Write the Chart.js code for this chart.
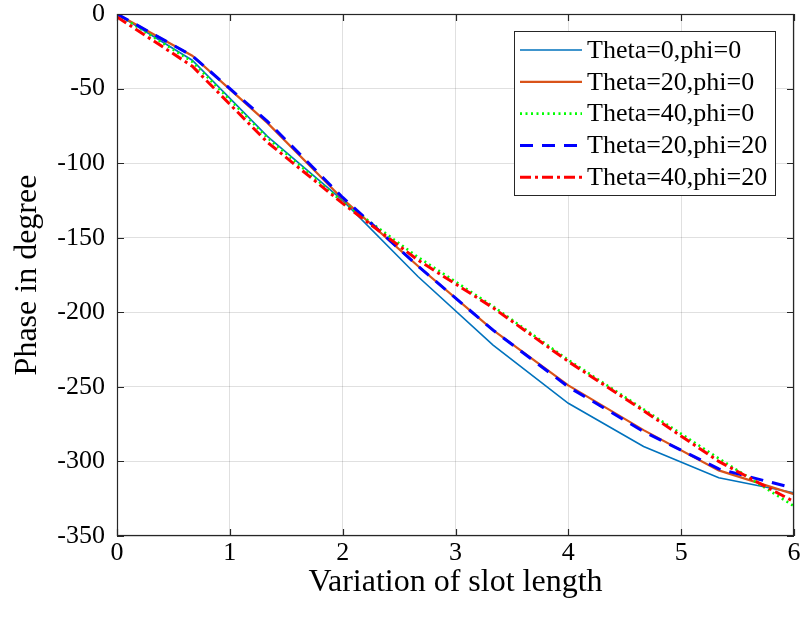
<!DOCTYPE html>
<html>
<head>
<meta charset="utf-8">
<script src="https://cdn.jsdelivr.net/npm/chart.js@4/dist/chart.umd.min.js"></script>
<style>
  html, body { margin: 0; padding: 0; background: #ffffff; }
  #wrap { width: 801px; height: 624px; }
</style>
</head>
<body>
<div id="wrap"><canvas id="c" width="801" height="624"></canvas></div>
<script>
// ---- data ----
const xValues = [0, 0.667, 1.333, 2, 2.667, 3.333, 4, 4.667, 5.333, 6];
const theta0phi0  = [0, -31, -82, -125, -176, -222, -261, -290, -311, -321];
const theta20phi0 = [0, -28, -73, -124, -169, -212, -249, -279, -306, -322];
const theta40phi0 = [0, -32, -83, -126, -163, -196, -232, -265, -298, -330];
const theta20phi20 = [0, -28, -72, -123, -169, -212, -250, -280, -305, -318];
const theta40phi20 = [-2, -35, -86, -127, -165, -197, -233, -266, -300, -327];
const seriesNames = ['Theta=0,phi=0', 'Theta=20,phi=0', 'Theta=40,phi=0', 'Theta=20,phi=20', 'Theta=40,phi=20'];
const xTicks = [0, 1, 2, 3, 4, 5, 6];
const yTicks = [0, -50, -100, -150, -200, -250, -300, -350];
const xTitle = 'Variation of slot length';
const yTitle = 'Phase in degree';

const FONT = "'Liberation Serif', 'Times New Roman', serif";
const AXC = '#262626';

const styles = [
  { color: '#0072BD', width: 1.6, dash: [] },
  { color: '#D95319', width: 2.2, dash: [] },
  { color: '#00FF00', width: 2.6, dash: [2, 3.5] },
  { color: '#0000FF', width: 3, dash: [13, 9] },
  { color: '#FF0000', width: 3, dash: [11, 4, 3, 4] }
];
const allSeries = [theta0phi0, theta20phi0, theta40phi0, theta20phi20, theta40phi20];

const datasets = allSeries.map((vals, i) => ({
  label: seriesNames[i],
  data: xValues.map((x, k) => ({ x: x, y: vals[k] })),
  borderColor: styles[i].color,
  backgroundColor: styles[i].color,
  borderWidth: styles[i].width,
  borderDash: styles[i].dash,
  pointRadius: 0,
  tension: 0,
  fill: false,
  order: allSeries.length - i
}));

const boxPlugin = {
  id: 'boxPlugin',
  afterDatasetsDraw(chart) {
    const { ctx, chartArea: a, scales } = chart;
    ctx.save();
    ctx.strokeStyle = AXC;
    ctx.lineWidth = 1.2;
    ctx.setLineDash([]);
    ctx.strokeRect(a.left + 0.5, a.top + 0.5, a.right - a.left - 1, a.bottom - a.top - 1);
    const tl = 7;
    ctx.beginPath();
    xTicks.forEach(v => {
      const px = Math.round(scales.x.getPixelForValue(v)) + 0.5;
      ctx.moveTo(px, a.bottom); ctx.lineTo(px, a.bottom - tl);
      ctx.moveTo(px, a.top); ctx.lineTo(px, a.top + tl);
    });
    yTicks.forEach(v => {
      const py = Math.round(scales.y.getPixelForValue(v)) + 0.5;
      ctx.moveTo(a.left, py); ctx.lineTo(a.left + tl, py);
      ctx.moveTo(a.right, py); ctx.lineTo(a.right - tl, py);
    });
    ctx.stroke();

    // legend box (inside the axes, upper right)
    const bx = a.left + 397, by = a.top + 17, bw = 261, bh = 164;
    ctx.fillStyle = '#ffffff';
    ctx.fillRect(bx, by, bw, bh);
    ctx.strokeStyle = AXC;
    ctx.lineWidth = 1;
    ctx.strokeRect(bx + 0.5, by + 0.5, bw, bh);
    const rowH = 31.8;
    ctx.font = '26px ' + FONT;
    ctx.textBaseline = 'middle';
    ctx.fillStyle = '#000000';
    seriesNames.forEach((name, i) => {
      const cy = by + 19 + i * rowH;
      ctx.beginPath();
      ctx.strokeStyle = styles[i].color;
      ctx.lineWidth = styles[i].width;
      ctx.setLineDash(styles[i].dash);
      ctx.moveTo(bx + 6, cy);
      ctx.lineTo(bx + 68, cy);
      ctx.stroke();
      ctx.setLineDash([]);
      ctx.fillText(name, bx + 73, cy + 1);
    });
    ctx.restore();
  }
};

new Chart(document.getElementById('c'), {
  type: 'line',
  data: { datasets: datasets },
  options: {
    responsive: false,
    animation: false,
    devicePixelRatio: 1,
    layout: { padding: { top: 14, right: 7, left: 0, bottom: 0 } },
    plugins: { legend: { display: false }, tooltip: { enabled: false } },
    scales: {
      x: {
        type: 'linear', min: 0, max: 6,
        afterBuildTicks(s) { s.ticks = xTicks.map(v => ({ value: v })); },
        afterFit(s) { s.height = 88; s.paddingLeft = 0; s.paddingRight = 0; },
        ticks: { color: '#000', font: { family: FONT, size: 26 }, padding: 2, maxRotation: 0 },
        grid: { color: 'rgba(0,0,0,0.12)', lineWidth: 1, drawTicks: false },
        border: { display: false },
        title: { display: true, text: xTitle, color: '#000', font: { family: FONT, size: 32 }, padding: { top: 0, bottom: 22 } }
      },
      y: {
        type: 'linear', min: -350, max: 0,
        afterBuildTicks(s) { s.ticks = yTicks.map(v => ({ value: v })); },
        afterFit(s) { s.width = 117; s.paddingTop = 0; s.paddingBottom = 0; },
        ticks: { color: '#000', font: { family: FONT, size: 26 }, padding: 12 },
        grid: { color: 'rgba(0,0,0,0.12)', lineWidth: 1, drawTicks: false },
        border: { display: false },
        title: { display: true, text: yTitle, color: '#000', font: { family: FONT, size: 32 }, padding: { top: 8, bottom: 0 } }
      }
    }
  },
  plugins: [boxPlugin]
});
</script>
</body>
</html>
